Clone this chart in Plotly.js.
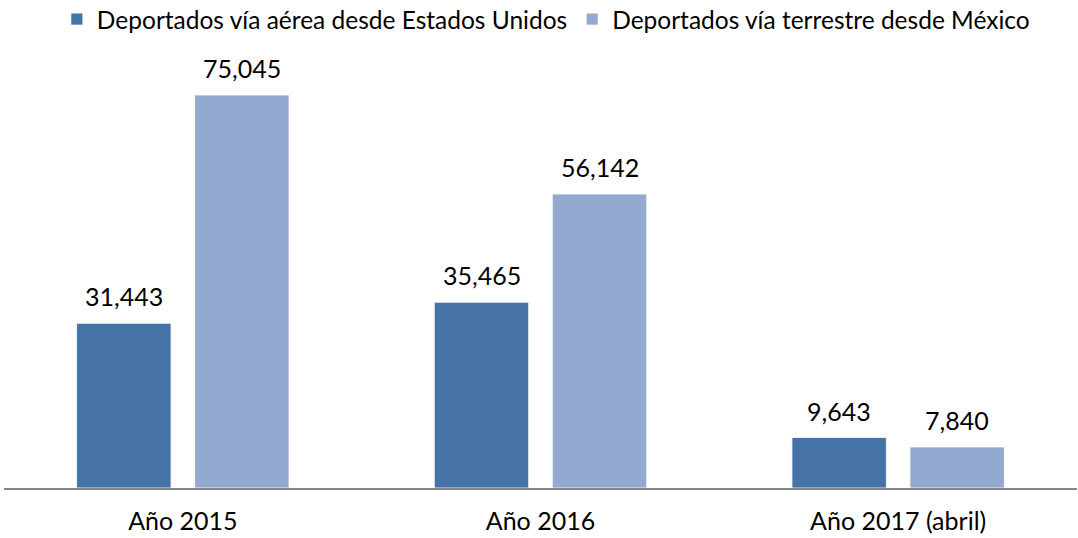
<!DOCTYPE html>
<html><head><meta charset="utf-8">
<script src="https://cdn.plot.ly/plotly-3.0.1.min.js"></script>
<style>html,body{margin:0;padding:0;background:#fff}#c{width:1078px;height:538px}</style>
</head><body><div id="c"></div>
<script>
const categories = ["Año 2015", "Año 2016", "Año 2017 (abril)"];
const seriesNames = ["Deportados vía aérea desde Estados Unidos", "Deportados vía terrestre desde México"];
const aereos = [31443, 35465, 9643];
const terrestres = [75045, 56142, 7840];

const font = "Lato, 'Open Sans', sans-serif";
const mk = (name, y, color) => ({
  type: 'bar', name: name, x: categories, y: y,
  marker: {color: color, line: {color: 'rgba(255,255,255,0.8)', width: 1}},
  hoverinfo: 'none'
});
const data = [
  mk(seriesNames[0], aereos, '#4572A7'),
  mk(seriesNames[1], terrestres, '#93A9CF')
];
const fmt = v => v.toLocaleString('en-US');
const annotations = [];
[[aereos, -59], [terrestres, 59]].forEach(([vals, dx]) => {
  vals.forEach((v, i) => annotations.push({
    x: categories[i], y: v, xref: 'x', yref: 'y', text: fmt(v), showarrow: false,
    xshift: dx, yanchor: 'bottom', yshift: 10,
    font: {family: font, size: 25, color: '#000'}
  }));
});
const layout = {
  width: 1078, height: 538,
  margin: {l: 4, r: 1, t: 60, b: 50, autoexpand: false},
  paper_bgcolor: '#fff', plot_bgcolor: '#fff',
  barmode: 'group', bargap: 0.34, bargroupgap: 0.2,
  showlegend: true,
  legend: {orientation: 'h', x: 0.505, xanchor: 'center', y: 1.148, yanchor: 'top', yref: 'paper',
    font: {family: font, size: 24.5, color: '#000'}, itemwidth: 30, tracegroupgap: 0},
  xaxis: {showline: true, linecolor: '#868686', linewidth: 2, ticks: '', showgrid: false,
    tickfont: {family: font, size: 25, color: '#000'}, zeroline: false, ticklabelstandoff: 10},
  yaxis: {range: [0, 81730], visible: false, showgrid: false, zeroline: false},
  annotations: annotations,
  font: {family: font}
};
Plotly.newPlot('c', data, layout, {staticPlot: true, displayModeBar: false});
</script></body></html>
